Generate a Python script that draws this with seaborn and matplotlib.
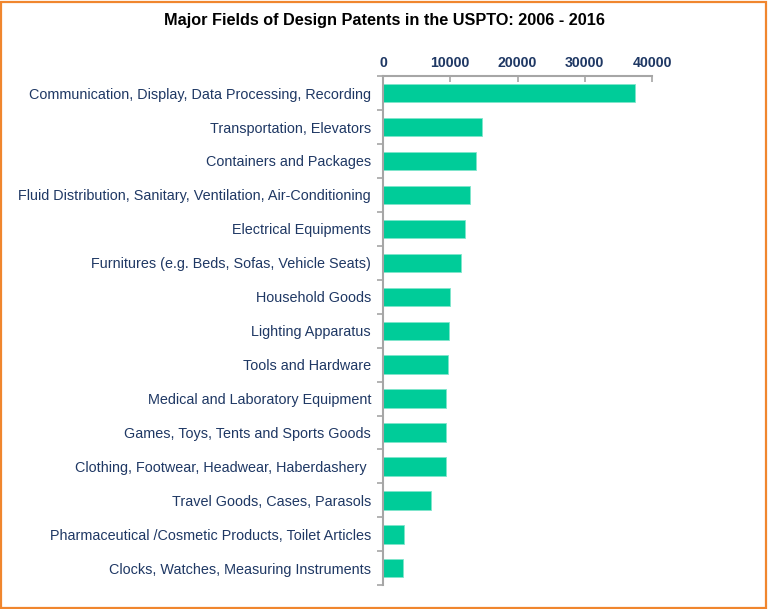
import numpy as np
import matplotlib
matplotlib.use('Agg')
import matplotlib.pyplot as plt
from matplotlib.patches import Rectangle
import seaborn as sns
import pandas as pd

# Data
fields = ['Communication, Display, Data Processing, Recording',
          'Transportation, Elevators',
          'Containers and Packages',
          'Fluid Distribution, Sanitary, Ventilation, Air-Conditioning',
          'Electrical Equipments',
          'Furnitures (e.g. Beds, Sofas, Vehicle Seats)',
          'Household Goods',
          'Lighting Apparatus',
          'Tools and Hardware',
          'Medical and Laboratory Equipment',
          'Games, Toys, Tents and Sports Goods',
          'Clothing, Footwear, Headwear, Haberdashery ',
          'Travel Goods, Cases, Parasols',
          'Pharmaceutical /Cosmetic Products, Toilet Articles',
          'Clocks, Watches, Measuring Instruments']
patents = [37400, 14720, 13880, 12890, 12240, 11550, 9910, 9810, 9710, 9420, 9420, 9320, 7090, 3120, 3020]
xticks = [0, 10000, 20000, 30000, 40000]

navy = '#1f3864'
barColor = '#00cc99'
spineGrey = '#a6a6a6'

sns.set_style('white')
plt.rcParams['font.family'] = ['Liberation Sans', 'DejaVu Sans']

df = pd.DataFrame({'field': fields, 'patents': patents})

fig = plt.figure(figsize=(7.68, 6.09), dpi=100)
ax = fig.add_axes([0.4987, 0.039, 0.3503, 0.836])

sns.barplot(df, x='patents', y='field', orient='h', color=barColor,
            saturation=1, width=0.54, edgecolor='#7fe6cc', linewidth=0.6, ax=ax)

ax.set_xlim(0, 40000)
ax.set_ylim(len(fields)-0.5, -0.5)
ax.set_xticks(xticks)
ax.set_xticklabels([str(t) for t in xticks], fontsize=10.2, fontweight='bold', color=navy)
ax.xaxis.tick_top()
ax.tick_params(axis='x', direction='in', length=4, width=1.2, color=spineGrey, pad=4.5, top=True, bottom=False)
ax.tick_params(axis='y', which='major', length=0, pad=8.6, labelsize=10.4, labelcolor=navy)
ax.set_yticks(np.arange(len(fields)+1)-0.5, minor=True)
ax.tick_params(axis='y', which='minor', direction='out', length=4, width=1.2, color=spineGrey, left=True)
ax.set_xlabel('')
ax.set_ylabel('')

for side in ['right', 'bottom']:
    ax.spines[side].set_visible(False)
for side in ['left', 'top']:
    ax.spines[side].set_color(spineGrey)
    ax.spines[side].set_linewidth(1.5)

fig.text(0.5, 0.966, 'Major Fields of Design Patents in the USPTO: 2006 - 2016',
         ha='center', va='center', fontsize=11.7, fontweight='bold', color='black')

fig.patches.append(Rectangle((0.001, 0.002), 0.997, 0.995, transform=fig.transFigure,
                             fill=False, edgecolor='#f0862e', linewidth=1.6))

fig.savefig('out.png', dpi=100)
